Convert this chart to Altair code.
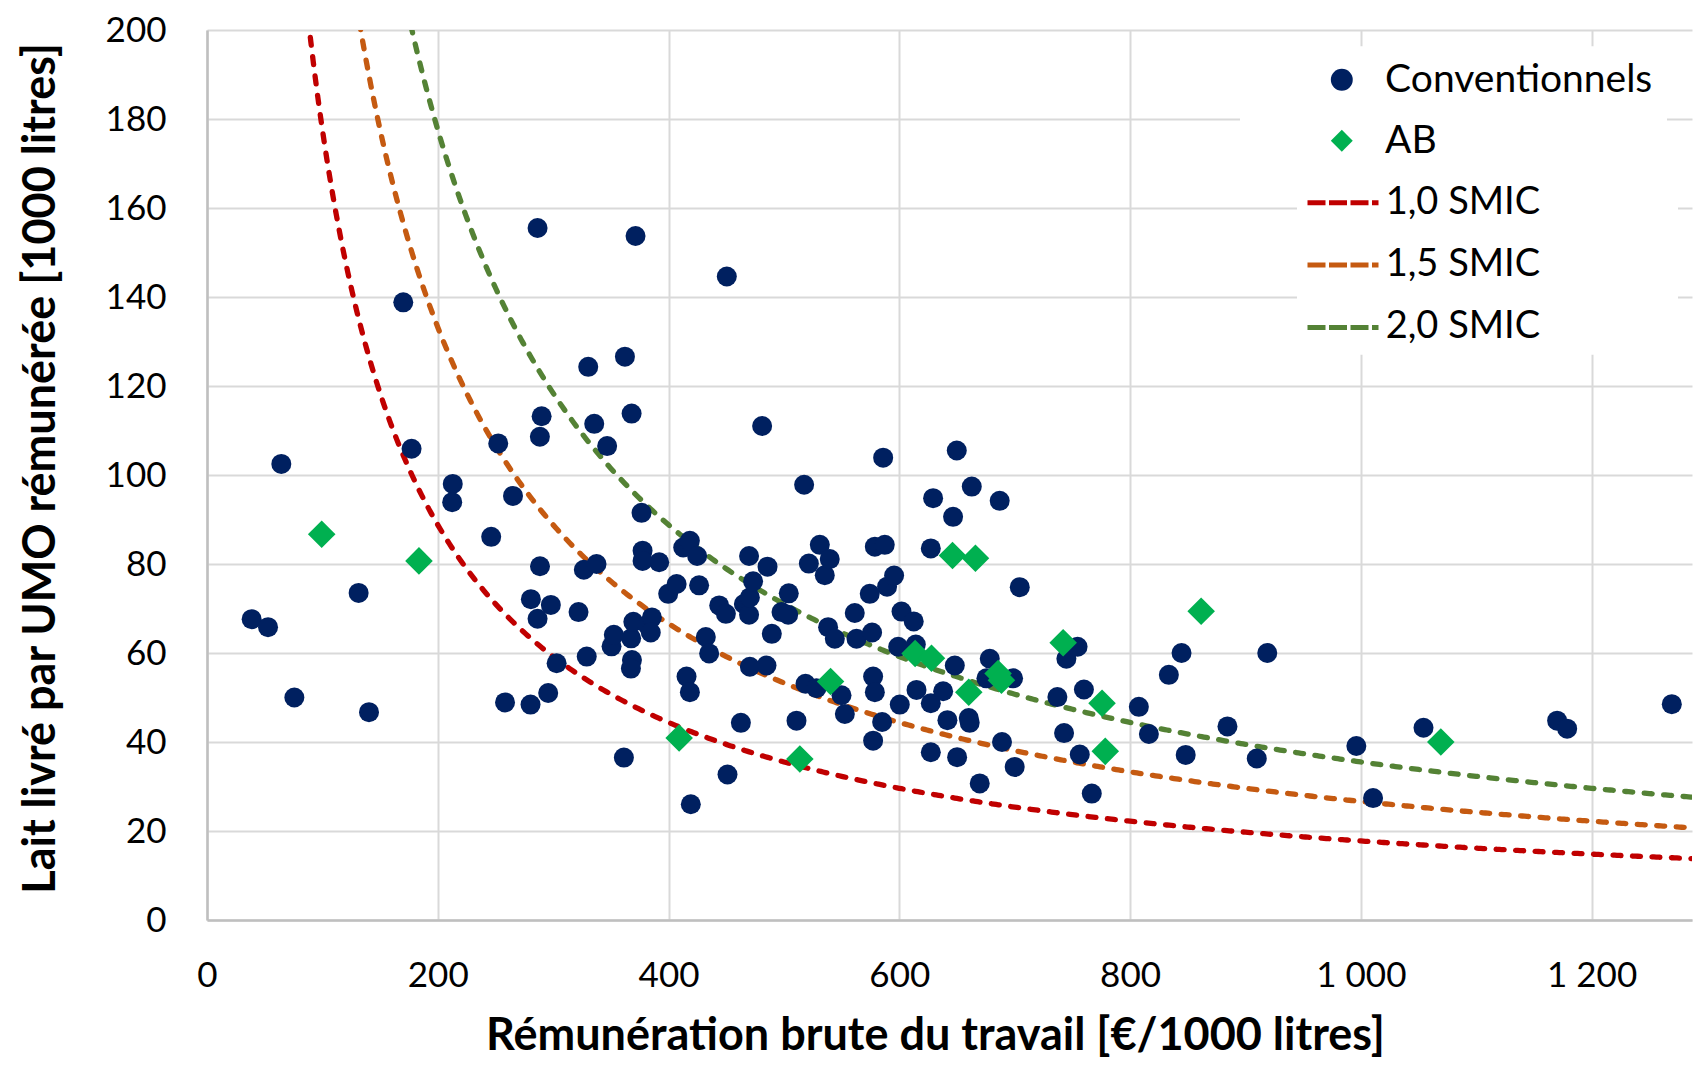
import altair as alt
import pandas as pd

# ---------------- data ----------------
conv_x = [38.7, 52.9, 64.4, 75.7, 131.4, 140.4, 170.1, 177.3, 213.0, 212.5,
          246.3, 252.4, 258.3, 265.2, 280.7, 280.4, 286.5, 290.0, 288.5, 288.6,
          286.5, 295.7, 298.0, 303.0, 322.0, 326.6, 330.4, 329.1, 335.6, 337.6,
          346.8, 350.6, 352.6, 361.3, 362.2, 368.0, 371.4, 368.3, 367.4, 367.6,
          369.5, 376.6, 377.5, 377.5, 381.8, 385.6, 384.6, 391.9, 399.7, 407.0,
          412.7, 418.5, 415.6, 418.5, 419.3, 424.8, 426.5, 432.3, 435.2, 443.9,
          449.7, 450.5, 451.1, 462.7, 469.8, 465.3, 469.8, 470.5, 473.3, 470.5,
          481.1, 484.9, 485.8, 489.5, 497.9, 503.7, 504.2, 510.9, 517.5, 518.7,
          521.6, 528.2, 531.1, 535.4, 539.7, 538.3, 544.1, 549.9, 552.8, 561.4,
          562.9, 574.4, 576.4, 577.3, 577.3, 578.8, 578.8, 586.0, 587.4, 585.1,
          589.4, 595.5, 599.0, 600.4, 601.9, 612.5, 614.3, 614.9, 627.3, 627.3,
          629.3, 627.3, 638.0, 641.7, 646.6, 648.1, 649.8, 650.1, 660.2, 661.0,
          662.8, 669.7, 678.4, 675.5, 687.0, 689.0, 698.6, 700.0, 704.4, 737.0,
          742.8, 744.8, 754.5, 756.4, 760.0, 766.8, 807.6, 816.3, 833.6, 844.6,
          848.2, 884.4, 909.8, 918.9, 996.1, 1010.6, 1054.3, 1170.1, 1178.8, 1269.5]
conv_y = [67.6, 65.8, 102.5, 50.0, 73.5, 46.7, 138.8, 105.9, 98.0, 93.9,
          86.1, 107.1, 48.9, 95.3, 72.1, 48.4, 155.5, 113.2, 108.6, 79.5,
          67.7, 51.0, 70.8, 57.7, 69.2, 78.7, 124.3, 59.2, 111.5, 80.0,
          106.5, 61.5, 64.1, 36.5, 126.6, 113.8, 153.7, 58.4, 56.5, 63.3,
          67.0, 91.5, 83.0, 80.7, 66.3, 68.0, 64.6, 80.4, 73.3, 75.5,
          83.7, 85.2, 54.7, 51.2, 26.0, 81.8, 75.2, 63.6, 59.9, 70.7,
          68.8, 144.6, 32.7, 44.3, 81.8, 71.0, 68.6, 72.5, 76.1, 56.9,
          111.0, 57.2, 79.4, 64.3, 69.2, 68.6, 73.4, 44.8, 97.8, 53.1,
          80.1, 52.1, 84.3, 77.5, 81.1, 65.8, 63.2, 50.5, 46.3, 69.0,
          63.2, 73.3, 64.6, 54.7, 40.3, 83.9, 51.2, 103.9, 84.3, 44.5,
          74.9, 77.4, 61.4, 48.4, 69.3, 67.1, 61.9, 51.7, 37.7, 83.5,
          94.8, 48.7, 51.4, 44.9, 90.6, 57.2, 105.5, 36.6, 45.4, 44.3,
          97.4, 30.7, 58.7, 54.3, 94.2, 40.0, 54.3, 34.4, 74.8, 50.1,
          42.0, 58.7, 61.4, 37.2, 51.8, 28.4, 47.9, 41.8, 55.1, 60.0,
          37.1, 43.5, 36.3, 60.0, 39.1, 27.4, 43.2, 44.8, 43.0, 48.5]

ab_x = [99.4, 183.7, 409.2, 513.8, 540.4, 613.7, 627.9, 646.1, 666.0, 660.2,
        685.6, 688.5, 742.0, 775.7, 778.5, 861.6, 1069.3]
ab_y = [86.7, 80.7, 40.9, 36.2, 53.6, 59.9, 58.8, 81.9, 81.3, 51.2,
        55.4, 53.9, 62.3, 48.7, 37.9, 69.4, 40.0]

group_labels = ["Conventionnels", "AB"]
group_colors = ["#002060", "#00B050"]
group_shapes = ["circle", "diamond"]

smic_labels = ["1,0 SMIC", "1,5 SMIC", "2,0 SMIC"]
smic_multipliers = [1.0, 1.5, 2.0]
smic_colors = ["#C00000", "#C55A11", "#548235"]
smic_annual_eur = 17760  # SMIC brut annuel (€/UMO) -> y = k / x

x_ticks = [0, 200, 400, 600, 800, 1000, 1200]
y_ticks = [0, 20, 40, 60, 80, 100, 120, 140, 160, 180, 200]

conv = pd.DataFrame({"x": conv_x, "y": conv_y, "group": group_labels[0]})
ab = pd.DataFrame({"x": ab_x, "y": ab_y, "group": group_labels[1]})
curves = pd.DataFrame({"level": smic_labels, "mult": smic_multipliers})

FONT = "Lato"
x_scale = alt.Scale(domain=[0, 1287], nice=False, zero=False)
y_scale = alt.Scale(domain=[0, 200], nice=False)

x_axis = alt.Axis(
    values=x_ticks,
    title="Rémunération brute du travail [€/1000 litres]",
    labelExpr="replace(format(datum.value, ','), ',', ' ')",
    labelPadding=38, labelFlush=False,
    titleX=728, titleY=129, titleAlign="center", titleBaseline="alphabetic",
)
y_axis = alt.Axis(
    values=y_ticks,
    title="Lait livré par UMO rémunérée [1000 litres]",
    labelPadding=41, labelFlush=False,
    titleAngle=270, titleX=-153, titleY=438, titleAlign="center",
    titleBaseline="alphabetic",
)

lines = (
    alt.Chart(curves)
    .transform_calculate(xs="sequence(60, 1290, 2)")
    .transform_flatten(["xs"])
    .transform_calculate(yv=f"datum.mult * {smic_annual_eur} / datum.xs")
    .transform_filter("datum.yv <= 215")
    .mark_line(clip=True, strokeWidth=5.3, strokeDash=[8, 11.5], strokeCap="round")
    .encode(
        x=alt.X("xs:Q", scale=x_scale, axis=x_axis),
        y=alt.Y("yv:Q", scale=y_scale, axis=y_axis),
        stroke=alt.Stroke(
            "level:N",
            scale=alt.Scale(domain=smic_labels, range=smic_colors),
            legend=alt.Legend(
                title="\u00a0", titleOrient="right", titlePadding=130,
                titleFontSize=1, titleColor="white",
                orient="none", legendX=1090, legendY=126.8,
                padding=8, fillColor="white", symbolType="stroke",
                symbolSize=5041, symbolStrokeWidth=5, symbolDash=[18, 3.5],
                labelOffset=4.7, rowPadding=5.3, labelFont=FONT,
                labelFontSize=38, labelColor="black", labelLimit=600,
            ),
        ),
    )
)

pt_legend = alt.Legend(
    title="\u00a0", titleOrient="left", titlePadding=68.3,
    titleFontSize=1, titleColor="white",
    orient="none", legendX=1033, legendY=16.3, padding=14,
    fillColor="white", symbolSize=480, symbolStrokeWidth=0,
    labelOffset=23.8, rowPadding=21, labelFont=FONT, labelFontSize=39,
    labelColor="black", labelLimit=600,
)
fill_enc = alt.Fill("group:N", scale=alt.Scale(domain=group_labels, range=group_colors), legend=pt_legend)
shape_enc = alt.Shape("group:N", scale=alt.Scale(domain=group_labels, range=group_shapes), legend=pt_legend)

circles = (
    alt.Chart(conv)
    .mark_point(filled=True, opacity=1, strokeWidth=0, size=400)
    .encode(x=alt.X("x:Q", scale=x_scale), y=alt.Y("y:Q", scale=y_scale),
            fill=fill_enc, shape=shape_enc)
)
diamonds = (
    alt.Chart(ab)
    .mark_point(filled=True, opacity=1, strokeWidth=0, size=760)
    .encode(x=alt.X("x:Q", scale=x_scale), y=alt.Y("y:Q", scale=y_scale),
            fill=fill_enc, shape=shape_enc)
)

chart = (
    alt.layer(lines, circles, diamonds)
    .properties(
        width=1485, height=890,
        autosize=alt.AutoSizeParams(type="none"),
        padding={"left": 199, "top": 22, "right": 6, "bottom": 141},
    )
    .configure_view(stroke=None)
    .configure_axis(
        grid=True, gridColor="#d9d9d9", gridWidth=2,
        domainColor="#bfbfbf", domainWidth=2.5,
        ticks=False, tickSize=0,
        labelFont=FONT, labelFontSize=35, labelColor="black",
        titleFont=FONT, titleFontSize=45, titleFontWeight="bold", titleColor="black",
    )
)

chart.save("out.html", embed_options={"renderer": "svg", "actions": False})
